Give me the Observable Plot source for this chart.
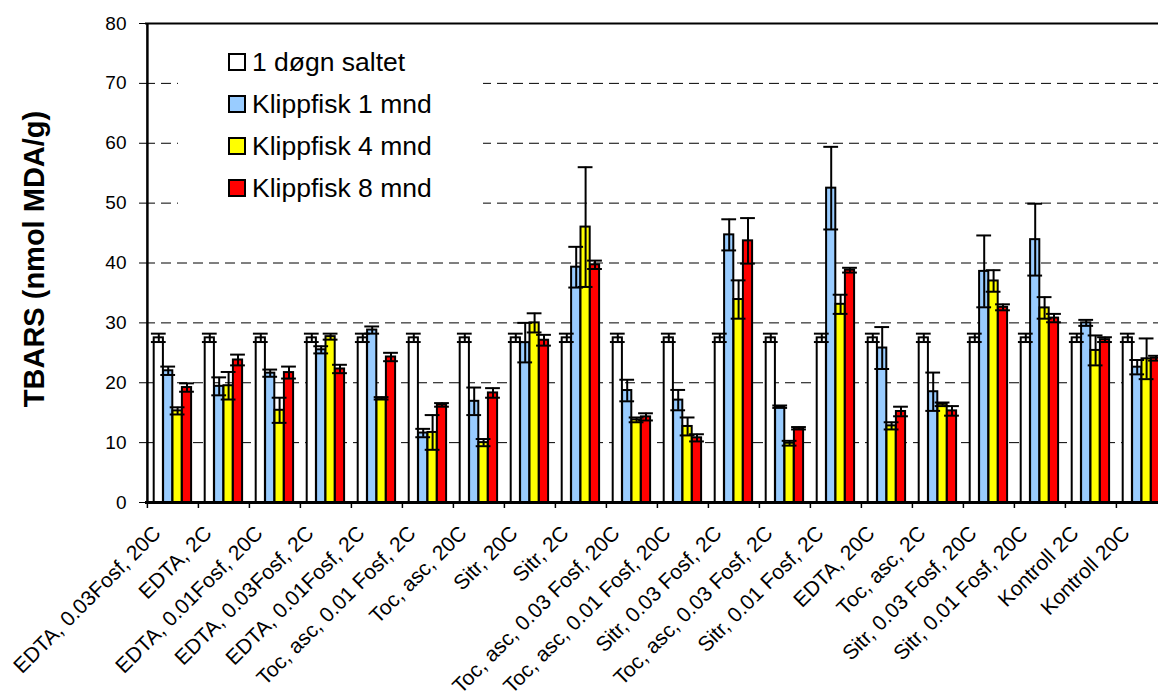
<!DOCTYPE html>
<html>
<head>
<meta charset="utf-8">
<script src="https://cdn.jsdelivr.net/npm/d3@7"></script>
<script src="https://cdn.jsdelivr.net/npm/@observablehq/plot@0.6"></script>
<style>
  html, body { margin: 0; padding: 0; background: white; overflow: hidden; }
  #wrap { position: relative; width: 1158px; height: 698px; font-family: Arial, "Liberation Sans", sans-serif; }
  #wrap svg { max-width: none !important; }
  #legend { position: absolute; left: 178px; top: 30px; width: 305px; height: 185px; background: white; }
  .row { position: absolute; left: 50px; height: 30px; display: flex; align-items: center; font-size: 26.5px; color: #000; white-space: nowrap; }
  .sw { width: 14px; height: 14px; border: 2px solid #000; margin-right: 6px; flex: none; }
</style>
</head>
<body>
<div id="wrap"></div>
<script>
// ---- data ----
const categories = [
  "EDTA, 0.03Fosf, 20C", "EDTA, 2C", "EDTA, 0.01Fosf, 20C", "EDTA, 0.03Fosf, 2C",
  "EDTA, 0.01Fosf, 2C", "Toc, asc, 0.01 Fosf, 2C", "Toc, asc, 20C", "Sitr, 20C",
  "Sitr, 2C", "Toc, asc, 0.03 Fosf, 20C", "Toc, asc, 0.01 Fosf, 20C", "Sitr, 0.03 Fosf, 2C",
  "Toc, asc, 0.03 Fosf, 2C", "Sitr, 0.01 Fosf, 2C", "EDTA, 20C", "Toc, asc, 2C",
  "Sitr, 0.03 Fosf, 20C", "Sitr, 0.01 Fosf, 20C", "Kontroll 2C", "Kontroll 20C"
];
const series = ["1 døgn saltet", "Klippfisk 1 mnd", "Klippfisk 4 mnd", "Klippfisk 8 mnd"];
const colors = ["#ffffff", "#99ccff", "#ffff00", "#ff0000"];

const saltet    = [27.5,27.5,27.5,27.5,27.5,27.5,27.5,27.5,27.5,27.5,27.5,27.5,27.5,27.5,27.5,27.5,27.5,27.5,27.5,27.5];
const saltetErr = [0.7,0.7,0.7,0.7,0.7,0.7,0.7,0.7,0.7,0.7,0.7,0.7,0.7,0.7,0.7,0.7,0.7,0.7,0.7,0.7];
const mnd1      = [22.0,19.4,21.6,25.5,28.8,11.6,16.9,26.7,39.3,18.7,17.1,44.7,16.0,52.5,25.8,18.5,38.6,43.9,30.0,22.6];
const mnd1Err   = [0.7,1.5,0.6,0.6,0.6,0.7,2.3,3.3,3.4,1.8,1.7,2.6,0.2,6.9,3.5,3.2,6.0,6.0,0.5,1.2];
const mnd4      = [15.3,19.5,15.4,27.7,17.4,11.7,10.0,30.0,46.0,13.8,12.7,33.9,9.9,33.1,12.8,16.4,37.0,32.5,25.4,24.0];
const mnd4Err   = [0.6,2.3,2.1,0.5,0.2,2.9,0.6,1.6,10.0,0.4,1.5,3.2,0.4,1.6,0.6,0.3,1.8,1.8,2.5,3.4];
const mnd8      = [19.2,23.8,21.7,22.3,24.3,16.3,18.3,27.1,39.7,14.3,10.8,43.7,12.4,38.8,15.2,15.3,32.6,30.8,27.2,24.1];
const mnd8Err   = [0.7,0.9,1.0,0.7,0.7,0.3,0.8,0.9,0.7,0.6,0.6,3.8,0.2,0.4,0.8,0.8,0.5,0.7,0.4,0.4];

const yTicks = [0, 10, 20, 30, 40, 50, 60, 70, 80];
const gridValues = [10, 20, 30, 40, 50, 60, 70];
const yTitle = "TBARS (nmol MDA/g)";

// ---- table ----
const values = [saltet, mnd1, mnd4, mnd8];
const errors = [saltetErr, mnd1Err, mnd4Err, mnd8Err];
const rows = [];
categories.forEach((c, j) => series.forEach((s, i) => {
  rows.push({cat: c, series: s, si: i, value: values[i][j], err: errors[i][j]});
}));

// ---- layout styling ----
const X0 = 145, X1 = 1169;
const BAND = (X1 - X0) / categories.length;
const GROUP_START = 6.7, BAR_W = 9.4, CAP_W = 15;

const marks = [
  Plot.ruleY(gridValues, {stroke: "#000", strokeWidth: 1, strokeDasharray: "10,6"})
];
series.forEach((s, i) => {
  const left = GROUP_START + i * BAR_W;
  marks.push(Plot.barY(rows.filter(r => r.si === i), {
    x: "cat", y: "value", fill: "series", stroke: "#000", strokeWidth: 2,
    insetLeft: left, insetRight: BAND - left - BAR_W
  }));
});
series.forEach((s, i) => {
  const data = rows.filter(r => r.si === i);
  const center = GROUP_START + i * BAR_W + BAR_W / 2;
  marks.push(Plot.ruleX(data, {
    x: "cat", y1: d => d.value - d.err, y2: d => d.value + d.err,
    dx: center - BAND / 2, stroke: "#000", strokeWidth: 2
  }));
  for (const sign of [1, -1]) {
    marks.push(Plot.tickY(data, {
      x: "cat", y: d => d.value + sign * d.err, stroke: "#000", strokeWidth: 2,
      insetLeft: center - CAP_W / 2, insetRight: BAND - center - CAP_W / 2
    }));
  }
});
// axes frame
marks.push(Plot.ruleY([80], {stroke: "#000", strokeWidth: 2}));
marks.push(Plot.ruleX([categories[0]], {x: d => d, dx: -BAND / 2, stroke: "#000", strokeWidth: 2.5}));
marks.push(Plot.ruleX(categories, {x: d => d, y1: 0, y2: -1, dx: -BAND / 2, stroke: "#000", strokeWidth: 1.5}));
marks.push(Plot.ruleY([0], {stroke: "#000", strokeWidth: 3}));
// y tick labels
marks.push(Plot.text(yTicks, {
  y: d => d, text: d => String(d), frameAnchor: "left", textAnchor: "end",
  dx: -19, fontSize: 19, fill: "#000"
}));
// category labels
marks.push(Plot.text(categories, {
  x: d => d, frameAnchor: "bottom", rotate: -45, textAnchor: "end",
  dx: -11, dy: 32, fontSize: 21, fill: "#000"
}));
// y title
marks.push(Plot.text([yTitle], {
  frameAnchor: "left", textAnchor: "middle", rotate: -90, dx: -111, dy: -4,
  fontSize: 29, fontWeight: "bold", fill: "#000"
}));

const chart = Plot.plot({
  width: 1158, height: 698,
  marginTop: 23, marginBottom: 196, marginLeft: 145, marginRight: 0,
  style: {fontFamily: "Arial, 'Liberation Sans', sans-serif", fontSize: "18px", color: "#000", background: "white", overflow: "hidden"},
  x: {domain: categories, range: [X0, X1], padding: 0, axis: null},
  y: {domain: [0, 80], ticks: yTicks, tickSize: 6, tickPadding: 7, label: null, tickFormat: () => ""},
  color: {domain: series, range: colors},
  marks
});
const wrap = document.getElementById("wrap");
wrap.appendChild(chart);

// legend
const legend = document.createElement("div");
legend.id = "legend";
const rowTops = [17, 59, 101, 143];
series.forEach((s, i) => {
  const r = document.createElement("div");
  r.className = "row";
  r.style.top = rowTops[i] + "px";
  const sw = document.createElement("div");
  sw.className = "sw";
  sw.style.background = colors[i];
  const t = document.createElement("span");
  t.textContent = s;
  r.appendChild(sw); r.appendChild(t);
  legend.appendChild(r);
});
wrap.appendChild(legend);
</script>
</body>
</html>
